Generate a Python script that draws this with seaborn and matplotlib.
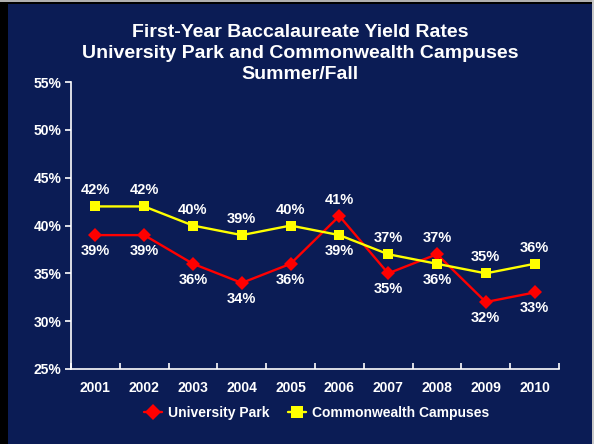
import pandas as pd
import matplotlib
matplotlib.use("Agg")
import matplotlib.pyplot as plt
import seaborn as sns
from matplotlib.patches import Rectangle
from matplotlib.ticker import FixedLocator, NullFormatter

# Veriler
years = [2001, 2002, 2003, 2004, 2005, 2006, 2007, 2008, 2009, 2010]
university_park = [39, 39, 36, 34, 36, 41, 35, 37, 32, 33]
commonwealth = [42, 42, 40, 39, 40, 39, 37, 36, 35, 36]
y_ticks = [25, 30, 35, 40, 45, 50, 55]

# etiket yonleri (+1 ustte, -1 altta)
up_side = [-1, -1, -1, -1, -1, 1, -1, 1, -1, -1]
cc_side = [1, 1, 1, 1, 1, -1, 1, -1, 1, 1]

NAVY = "#0b1c55"
RED = "#ff0000"
YELLOW = "#ffff00"

df = pd.DataFrame({
    "Yil": years * 2,
    "Oran": university_park + commonwealth,
    "Seri": ["University Park"] * len(years) + ["Commonwealth Campuses"] * len(years),
})

sns.set_style("white")
plt.rcParams["font.family"] = ["Liberation Sans", "DejaVu Sans"]
plt.rcParams["font.weight"] = "bold"

fig = plt.figure(figsize=(5.94, 4.44), dpi=100, facecolor=NAVY)
ax = fig.add_axes([0.1195, 0.169, 0.8215, 0.646])
ax.set_facecolor(NAVY)

sns.lineplot(data=df, x="Yil", y="Oran", hue="Seri", style="Seri",
             palette={"University Park": RED, "Commonwealth Campuses": YELLOW},
             markers={"University Park": "D", "Commonwealth Campuses": "s"},
             dashes=False, linewidth=1.7, markersize=7.5, markeredgewidth=0,
             ax=ax)

# veri etiketleri
for seri, vals, sides in [("University Park", university_park, up_side),
                          ("Commonwealth Campuses", commonwealth, cc_side)]:
    for x, v, s in zip(years, vals, sides):
        ax.annotate(f"{v}%", (x, v), xytext=(0, 11.5 * s), textcoords="offset points",
                    ha="center", va="center", color="white", fontsize=10.5,
                    fontweight="bold")

ax.set_xlim(2000.5, 2010.5)
ax.set_ylim(25, 55)
ax.set_yticks(y_ticks)
ax.set_yticklabels([f"{t}%" for t in y_ticks])
ax.xaxis.set_major_locator(FixedLocator([y + 0.5 for y in [2000] + years]))
ax.xaxis.set_major_formatter(NullFormatter())
ax.xaxis.set_minor_locator(FixedLocator(years))
ax.set_xticklabels([str(y) for y in years], minor=True)
ax.tick_params(axis="x", which="major", direction="in", length=4, width=1.2,
               color="white", bottom=True)
ax.tick_params(axis="x", which="minor", length=0, pad=9, labelsize=10,
               labelcolor="white")
ax.tick_params(axis="y", direction="out", length=4, width=1.2, color="white",
               labelcolor="white", labelsize=10, left=True, pad=3)
for lab in ax.get_xticklabels(minor=True) + ax.get_yticklabels():
    lab.set_fontweight("bold")

for side in ["top", "right"]:
    ax.spines[side].set_visible(False)
for side in ["left", "bottom"]:
    ax.spines[side].set_color("white")
    ax.spines[side].set_linewidth(1.2)
ax.set_xlabel("")
ax.set_ylabel("")
ax.grid(False)

leg = ax.legend(loc="center", bbox_to_anchor=(0.533, 0.07), bbox_transform=fig.transFigure,
                ncol=2, frameon=False, fontsize=10, handlelength=1.3,
                columnspacing=1.3, handletextpad=0.45, markerscale=1.1)
for t in leg.get_texts():
    t.set_color("white")
    t.set_fontweight("bold")

fig.text(0.505, 0.946, "First-Year Baccalaureate Yield Rates\nUniversity Park and Commonwealth Campuses\nSummer/Fall",
         ha="center", va="top", color="white", fontsize=14, fontweight="bold",
         linespacing=1.3)

# cerceve
fig.patches.append(Rectangle((0, 0), 0.013, 1, transform=fig.transFigure,
                             facecolor="black", edgecolor="none"))
fig.patches.append(Rectangle((0, 0.991), 1, 0.009, transform=fig.transFigure,
                             facecolor="black", edgecolor="none"))
fig.patches.append(Rectangle((0, 0.996), 1, 0.004, transform=fig.transFigure,
                             facecolor="#b0b0b0", edgecolor="none"))
fig.patches.append(Rectangle((0.996, 0), 0.004, 1, transform=fig.transFigure,
                             facecolor="#c8c8c8", edgecolor="none"))

fig.savefig("out.png", dpi=100, facecolor=NAVY)
